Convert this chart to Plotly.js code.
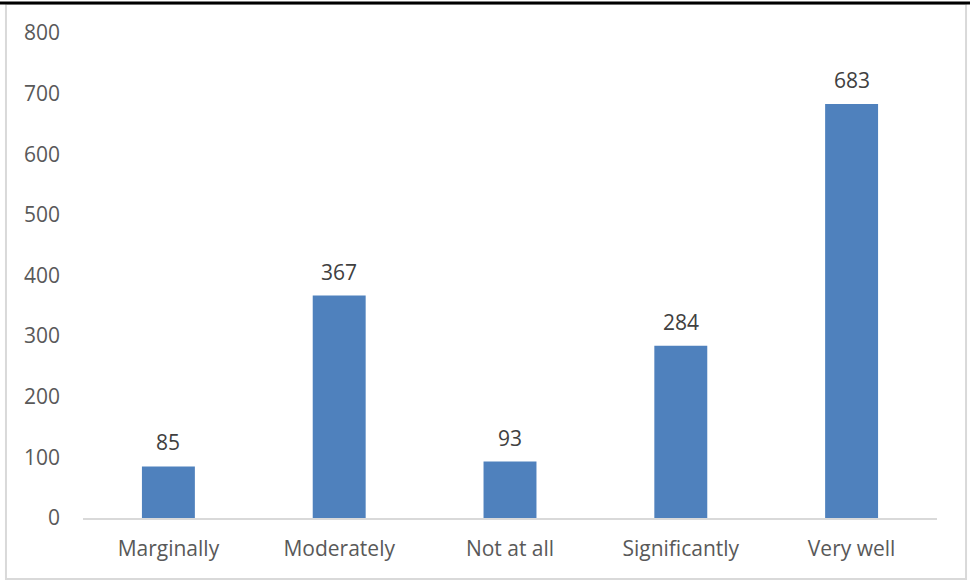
<!DOCTYPE html>
<html><head><meta charset="utf-8">
<script src="https://cdn.plot.ly/plotly-3.0.1.min.js"></script>
<style>html,body{margin:0;padding:0;background:#fff}#chart{width:970px;height:583px}</style>
</head><body><div id="chart"></div>
<script>
const categories = ["Marginally", "Moderately", "Not at all", "Significantly", "Very well"];
const values = [85, 367, 93, 284, 683];
const yTicks = [0, 100, 200, 300, 400, 500, 600, 700, 800];

const trace = {
  type: "bar", x: categories, y: values,
  marker: {color: "#4F81BD"}, hoverinfo: "none"
};
const annotations = categories.map((c, i) => ({
  x: c, y: values[i], xref: "x", yref: "y", text: String(values[i]),
  showarrow: false, yanchor: "bottom", yshift: 8,
  font: {family: "Open Sans, sans-serif", size: 21, color: "#404040"}
}));
const layout = {
  width: 970, height: 583,
  margin: {l: 83, r: 33, t: 33, b: 65},
  paper_bgcolor: "#fff", plot_bgcolor: "#fff",
  showlegend: false, bargap: 0.69,
  xaxis: {
    type: "category", showgrid: false, showline: true, linecolor: "#D9D9D9", linewidth: 2,
    ticks: "", ticklabelstandoff: 11,
    tickfont: {family: "Open Sans, sans-serif", size: 21, color: "#595959"}
  },
  yaxis: {
    range: [0, 800], tickvals: yTicks, ticktext: yTicks.map(String),
    showgrid: false, zeroline: false, showline: false, ticks: "", ticklabelstandoff: 22,
    tickfont: {family: "Open Sans, sans-serif", size: 21, color: "#595959"}
  },
  annotations: annotations,
  shapes: [
    {type: "rect", xref: "paper", yref: "paper", x0: -0.0902, x1: 1.034, y0: -0.1258, y1: 1.06,
     line: {color: "#D9D9D9", width: 2}, layer: "below"},
    {type: "line", xref: "paper", yref: "paper", x0: -0.2, x1: 1.2, y0: 1.0619, y1: 1.0619,
     line: {color: "#000", width: 3}}
  ]
};
Plotly.newPlot("chart", [trace], layout, {staticPlot: true});
</script></body></html>
